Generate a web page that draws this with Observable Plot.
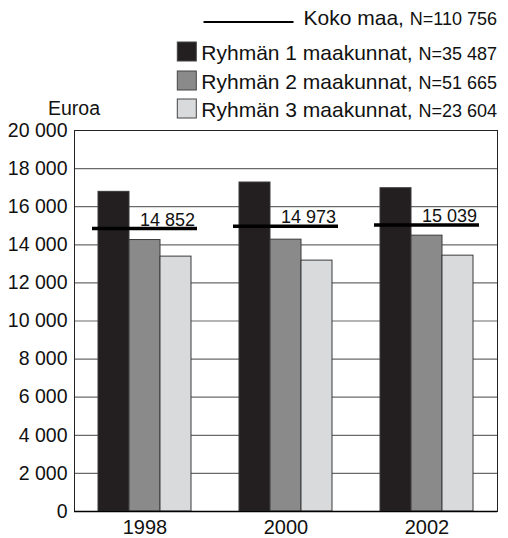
<!DOCTYPE html>
<html>
<head>
<meta charset="utf-8">
<script src="https://cdn.jsdelivr.net/npm/d3@7"></script>
<script src="https://cdn.jsdelivr.net/npm/@observablehq/plot@0.6"></script>
<style>
  html, body { margin: 0; padding: 0; background: #fff; }
  #wrap { position: relative; width: 508px; height: 538px; font-family: "Liberation Sans", Arial, sans-serif; }
  #legend { position: absolute; left: 0; top: 0; }
</style>
</head>
<body>
<div id="wrap"></div>
<script>
// ---- data ----
const years = ["1998", "2000", "2002"];
const series = ["Ryhmän 1 maakunnat", "Ryhmän 2 maakunnat", "Ryhmän 3 maakunnat"];
const seriesN = ["N=35 487", "N=51 665", "N=23 604"];
const group1 = [16780, 17270, 16970];
const group2 = [14250, 14270, 14480];
const group3 = [13380, 13170, 13430];
const national = [14852, 14973, 15039];
const nationalName = "Koko maa";
const nationalN = "N=110 756";
const yTicks = [0, 2000, 4000, 6000, 8000, 10000, 12000, 14000, 16000, 18000, 20000];
const colors = ["#231f21", "#8a8a8a", "#d9dadc"];
const yLabel = "Euroa";

const groups = [group1, group2, group3];
const rows = years.flatMap((yr, i) => series.map((s, j) => ({year: yr, series: s, value: groups[j][i]})));
const nat = years.map((yr, i) => ({year: yr, value: national[i]}));
const fmt = d => d3.format(",")(d).replace(/,/g, " ");

const chart = Plot.plot({
  width: 508,
  height: 538,
  marginTop: 130,
  marginBottom: 27,
  marginLeft: 73,
  marginRight: 10,
  style: {fontFamily: "'Liberation Sans', Arial, sans-serif", fontSize: "19.5px", color: "#111", background: "#fff", overflow: "visible"},
  fx: {domain: years, padding: 0},
  x: {domain: series, paddingInner: 0, paddingOuter: 0.75, axis: null},
  y: {domain: [0, 20000]},
  color: {domain: series, range: colors},
  marks: [
    Plot.ruleY(yTicks, {stroke: "#6a6a6a", strokeWidth: 1.2}),
    Plot.barY(rows, {fx: "year", x: "series", y: "value", fill: "series", stroke: "#3a3a3a", strokeWidth: 1}),
    Plot.ruleY(nat, {fx: "year", y: "value", stroke: "#000", strokeWidth: 3.5, insetLeft: 18, insetRight: 18}),
    Plot.text(nat, {fx: "year", x: () => series[2], y: "value", text: d => fmt(d.value), textAnchor: "end", lineAnchor: "bottom", dx: 19, dy: -3, fontSize: 18, fill: "#111"}),
    Plot.frame({facet: "super", stroke: "#222", strokeWidth: 1}),
    Plot.ruleY([0], {stroke: "#000", strokeWidth: 1.5}),
    Plot.axisY({ticks: yTicks, tickFormat: fmt, tickSize: 0, tickPadding: 7, label: null, fontSize: 19.5, fill: "#111"}),
    Plot.axisFx({anchor: "bottom", tickSize: 0, tickPadding: 8, label: null, fontSize: 20, fill: "#111"})
  ]
});

const wrap = document.getElementById("wrap");
wrap.appendChild(chart);

// ---- legend + axis title overlay ----
const svg = d3.select(wrap).append("svg")
  .attr("id", "legend").attr("width", 508).attr("height", 125)
  .style("font-family", "'Liberation Sans', Arial, sans-serif");

svg.append("text").attr("x", 48).attr("y", 115).attr("font-size", 19.5).attr("fill", "#111").text(yLabel);

function row(main, n, baseline, mainSize, nSize) {
  const t = svg.append("text").attr("x", 497).attr("y", baseline).attr("text-anchor", "end").attr("fill", "#111");
  t.append("tspan").attr("font-size", mainSize).text(main + ", ");
  t.append("tspan").attr("font-size", nSize).text(n);
  return t.node().getBBox();
}

const b0 = row(nationalName, nationalN, 25, 21, 18);
svg.append("line").attr("x1", b0.x - 100).attr("x2", b0.x - 10).attr("y1", 22).attr("y2", 22)
  .attr("stroke", "#000").attr("stroke-width", 2);

const baselines = [60, 89, 117];
series.forEach((s, j) => {
  const b = row(s, seriesN[j], baselines[j], 21, 18);
  svg.append("rect").attr("x", b.x - 24).attr("y", baselines[j] - 18).attr("width", 19).attr("height", 19)
    .attr("fill", colors[j]).attr("stroke", "#444").attr("stroke-width", 1);
});
</script>
</body>
</html>
